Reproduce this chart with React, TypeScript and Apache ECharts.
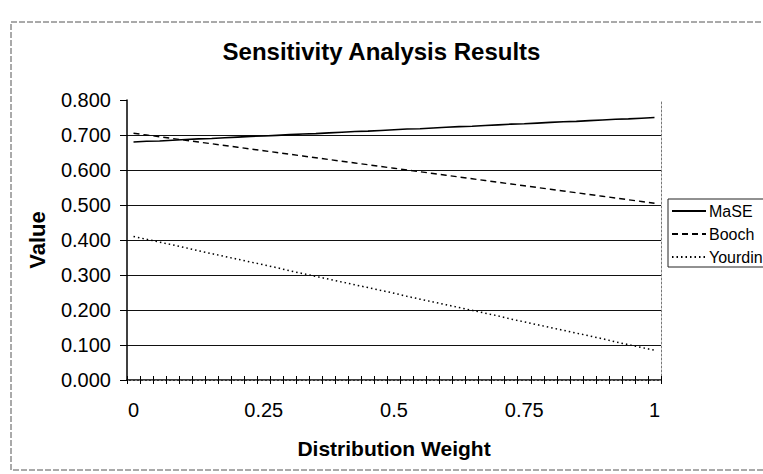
import React, { useEffect, useRef } from "react";
import * as echarts from "echarts";

const categories = [
  "0", "0.025", "0.05", "0.075", "0.1", "0.125", "0.15", "0.175", "0.2", "0.225",
  "0.25", "0.275", "0.3", "0.325", "0.35", "0.375", "0.4", "0.425", "0.45", "0.475",
  "0.5", "0.525", "0.55", "0.575", "0.6", "0.625", "0.65", "0.675", "0.7", "0.725",
  "0.75", "0.775", "0.8", "0.825", "0.85", "0.875", "0.9", "0.925", "0.95", "0.975",
  "1",
];

const maseValues = [
  0.680, 0.682, 0.683, 0.685, 0.687, 0.689, 0.690, 0.692, 0.694, 0.696,
  0.697, 0.699, 0.701, 0.703, 0.704, 0.706, 0.708, 0.710, 0.711, 0.713,
  0.715, 0.717, 0.718, 0.720, 0.722, 0.724, 0.725, 0.727, 0.729, 0.731,
  0.732, 0.734, 0.736, 0.738, 0.739, 0.741, 0.743, 0.745, 0.746, 0.748,
  0.750,
];

const boochValues = [
  0.705, 0.700, 0.695, 0.690, 0.685, 0.680, 0.675, 0.670, 0.665, 0.660,
  0.655, 0.650, 0.645, 0.640, 0.635, 0.630, 0.625, 0.620, 0.615, 0.610,
  0.605, 0.600, 0.595, 0.590, 0.585, 0.580, 0.575, 0.570, 0.565, 0.560,
  0.555, 0.550, 0.545, 0.540, 0.535, 0.530, 0.525, 0.520, 0.515, 0.510,
  0.505,
];

const yourdinValues = [
  0.410, 0.402, 0.394, 0.386, 0.378, 0.369, 0.361, 0.353, 0.345, 0.337,
  0.329, 0.321, 0.312, 0.304, 0.296, 0.288, 0.280, 0.272, 0.264, 0.256,
  0.248, 0.239, 0.231, 0.223, 0.215, 0.207, 0.199, 0.191, 0.183, 0.174,
  0.166, 0.158, 0.150, 0.142, 0.134, 0.126, 0.118, 0.109, 0.101, 0.093,
  0.085,
];

const seriesNames = ["MaSE", "Booch", "Yourdin"];

const FONT = "'Liberation Sans', Arial, sans-serif";

export default function App() {
  const ref = useRef<HTMLDivElement>(null);

  useEffect(() => {
    document.body.style.margin = "0";
    if (!ref.current) return;
    const chart = echarts.init(ref.current, null, { renderer: "svg" });

    const gridSplitColors = [
      "#111", "#111", "#111", "#111", "#111", "#111", "#111", "#111", "rgba(0,0,0,0)",
    ];

    chart.setOption({
      animation: false,
      backgroundColor: "#ffffff",
      title: {
        text: "Sensitivity Analysis Results",
        left: "center",
        top: 34,
        textStyle: {
          fontFamily: FONT,
          fontSize: 24,
          fontWeight: "bold",
          color: "#000",
        },
      },
      grid: { left: 127, right: 102, top: 100, bottom: 94 },
      legend: {
        data: seriesNames,
        orient: "vertical",
        left: 671,
        top: 203,
        itemWidth: 34,
        itemHeight: 10,
        itemGap: 7,
        padding: 0,
        itemStyle: { color: "rgba(0,0,0,0)", borderColor: "rgba(0,0,0,0)", borderWidth: 0 },
        textStyle: { fontFamily: FONT, fontSize: 16, color: "#000", padding: [0, 0, 0, -2] },
      },
      graphic: [
        {
          type: "rect",
          shape: { x: 668, y: 199, width: 140, height: 68 },
          style: { fill: "none", stroke: "#222", lineWidth: 1 },
          silent: true,
        },
        {
          type: "rect",
          shape: { x: 11, y: 22, width: 800, height: 448 },
          style: { fill: "none", stroke: "#555", lineWidth: 1, lineDash: [6, 2] },
          silent: true,
        },
      ],
      xAxis: [
        {
          type: "category",
          data: categories,
          boundaryGap: true,
          name: "Distribution Weight",
          nameLocation: "middle",
          nameGap: 58,
          nameTextStyle: { fontFamily: FONT, fontSize: 21, fontWeight: "bold", color: "#000" },
          axisLine: { lineStyle: { color: "#000", width: 1.5 } },
          axisTick: { show: true, interval: 0, length: 4, lineStyle: { color: "#000" } },
          axisLabel: {
            interval: 9,
            margin: 20,
            fontFamily: FONT,
            fontSize: 20,
            color: "#000",
          },
          splitLine: { show: false },
        },
        {
          type: "category",
          data: categories,
          position: "top",
          axisLine: { lineStyle: { color: "#777", width: 1, type: [2, 2] } },
          axisTick: { show: false },
          axisLabel: { show: false },
        },
        {
          type: "category",
          data: categories,
          position: "bottom",
          axisLine: { show: false },
          axisTick: { show: true, inside: true, interval: 0, length: 4, lineStyle: { color: "#000" } },
          axisLabel: { show: false },
        },
      ],
      yAxis: [
        {
          type: "value",
          min: 0,
          max: 0.8,
          interval: 0.1,
          name: "Value",
          nameLocation: "middle",
          nameGap: 79,
          nameTextStyle: { fontFamily: FONT, fontSize: 22, fontWeight: "bold", color: "#000" },
          axisLine: { show: true, lineStyle: { color: "#000", width: 1.5 } },
          axisTick: { show: true, length: 7, lineStyle: { color: "#000" } },
          axisLabel: {
            margin: 16,
            fontFamily: FONT,
            fontSize: 20,
            color: "#000",
            formatter: (v: number) => v.toFixed(3),
          },
          splitLine: { show: true, lineStyle: { color: gridSplitColors, width: 1 } },
        },
        {
          type: "value",
          min: 0,
          max: 0.8,
          interval: 0.1,
          position: "right",
          axisLine: { show: true, lineStyle: { color: "#777", width: 1, type: [2, 2] } },
          axisTick: { show: false },
          axisLabel: { show: false },
          splitLine: { show: false },
        },
      ],
      series: [
        {
          name: seriesNames[0],
          type: "line",
          data: maseValues,
          symbol: "none",
          lineStyle: { color: "#000", width: 1.6, type: "solid" },
          itemStyle: { color: "#000" },
        },
        {
          name: seriesNames[1],
          type: "line",
          data: boochValues,
          symbol: "none",
          lineStyle: { color: "#000", width: 1.4, type: [6, 4] },
          itemStyle: { color: "#000" },
        },
        {
          name: seriesNames[2],
          type: "line",
          data: yourdinValues,
          symbol: "none",
          lineStyle: { color: "#000", width: 1.5, type: [1.5, 3] },
          itemStyle: { color: "#000" },
        },
      ],
    });

    return () => chart.dispose();
  }, []);

  return <div ref={ref} style={{ width: 763, height: 474 }} />;
}
